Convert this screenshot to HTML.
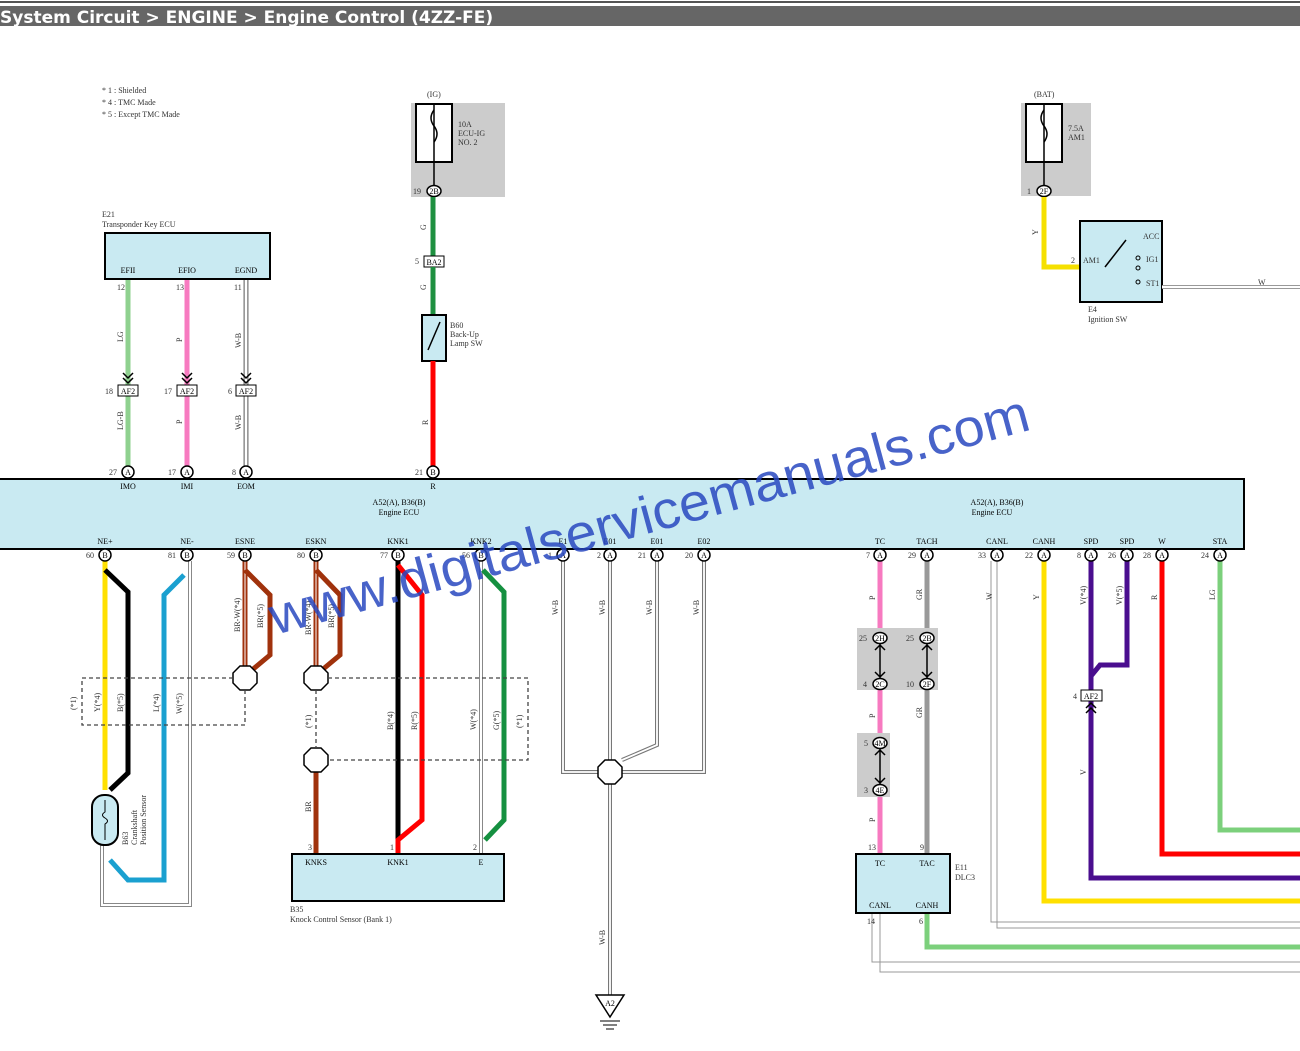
<!DOCTYPE html>
<html><head><meta charset="utf-8"><style>
html,body{margin:0;padding:0;background:#fff;width:1300px;height:1051px;overflow:hidden}
svg{display:block}
.t{font-family:"Liberation Serif",serif;font-size:8px;fill:#333}
.p{font-family:"Liberation Serif",serif;font-size:8px;fill:#000;text-anchor:middle}
</style></head><body>
<svg width="1300" height="1051" viewBox="0 0 1300 1051" xmlns="http://www.w3.org/2000/svg">
<line x1="0" y1="2" x2="1300" y2="2" stroke="#555" stroke-width="2"/>
<rect x="0" y="6" width="1300" height="20" fill="#666"/>
<text x="0" y="23" font-family="DejaVu Sans,sans-serif" font-weight="bold" font-size="17" fill="#fff">System Circuit &gt; ENGINE &gt; Engine Control (4ZZ-FE)</text>

<text class="t" x="102" y="93">* 1 : Shielded</text>
<text class="t" x="102" y="105">* 4 : TMC Made</text>
<text class="t" x="102" y="117">* 5 : Except TMC Made</text>

<!-- IG fuse -->
<text class="t" x="427" y="97">(IG)</text>
<rect x="411" y="103" width="94" height="94" fill="#ccc"/>
<rect x="416" y="104" width="36" height="58" fill="#fff" stroke="#000" stroke-width="2"/>
<path d="M434 110 q-6 8 0 16 q6 8 0 16" fill="none" stroke="#000" stroke-width="1.5"/>
<line x1="434" y1="104" x2="434" y2="185" stroke="#000" stroke-width="1.5"/>
<text class="t" x="458" y="127">10A</text><text class="t" x="458" y="136">ECU-IG</text><text class="t" x="458" y="145">NO. 2</text>
<ellipse cx="434" cy="191" rx="7" ry="5.5" fill="#fff" stroke="#000" stroke-width="1.5"/><text class="p" x="434" y="194">2B</text><text class="t" x="413" y="194">19</text>
<line x1="433" y1="197" x2="433" y2="256" stroke="#1e9040" stroke-width="5"/>
<rect x="424" y="256" width="20" height="11" fill="#fff" stroke="#000"/><text class="p" x="434" y="265">BA2</text><text class="t" x="415" y="264">5</text>
<line x1="433" y1="267" x2="433" y2="315" stroke="#1e9040" stroke-width="5"/>
<text class="t" x="426" y="230" transform="rotate(-90 426 230)">G</text>
<text class="t" x="426" y="290" transform="rotate(-90 426 290)">G</text>
<rect x="422" y="315" width="24" height="46" fill="#c9eaf2" stroke="#000" stroke-width="2"/>
<line x1="428" y1="350" x2="440" y2="322" stroke="#000" stroke-width="1.5"/>
<text class="t" x="450" y="328">B60</text><text class="t" x="450" y="337">Back-Up</text><text class="t" x="450" y="346">Lamp SW</text>
<line x1="433" y1="361" x2="433" y2="466" stroke="#f00" stroke-width="5"/>
<text class="t" x="428" y="425" transform="rotate(-90 428 425)">R</text>

<!-- BAT -->
<text class="t" x="1034" y="97">(BAT)</text>
<rect x="1021" y="103" width="70" height="93" fill="#ccc"/>
<rect x="1026" y="104" width="36" height="58" fill="#fff" stroke="#000" stroke-width="2"/>
<path d="M1044 110 q-6 8 0 16 q6 8 0 16" fill="none" stroke="#000" stroke-width="1.5"/>
<line x1="1044" y1="104" x2="1044" y2="185" stroke="#000" stroke-width="1.5"/>
<text class="t" x="1068" y="131">7.5A</text><text class="t" x="1068" y="140">AM1</text>
<ellipse cx="1044" cy="191" rx="7" ry="5.5" fill="#fff" stroke="#000" stroke-width="1.5"/><text class="p" x="1044" y="194">2F</text><text class="t" x="1027" y="194">1</text>
<path d="M1044 197 V267 H1080" fill="none" stroke="#f5e000" stroke-width="5"/>
<text class="t" x="1038" y="235" transform="rotate(-90 1038 235)">Y</text><text class="t" x="1071" y="263">2</text>
<rect x="1080" y="221" width="82" height="81" fill="#c9eaf2" stroke="#000" stroke-width="2"/>
<text class="t" x="1083" y="263">AM1</text><text class="t" x="1143" y="239">ACC</text><text class="t" x="1146" y="262">IG1</text><text class="t" x="1146" y="286">ST1</text>
<line x1="1105" y1="267" x2="1126" y2="240" stroke="#000" stroke-width="1.5"/>
<circle cx="1138" cy="258" r="2" fill="none" stroke="#000"/><circle cx="1138" cy="268" r="2" fill="none" stroke="#000"/><circle cx="1138" cy="282" r="2" fill="none" stroke="#000"/>
<path d="M1162 287 H1300" stroke="#999" stroke-width="4"/><path d="M1162 287 H1300" stroke="#fff" stroke-width="2"/>
<text class="t" x="1258" y="285">W</text>
<text class="t" x="1088" y="312">E4</text><text class="t" x="1088" y="322">Ignition SW</text>

<!-- Transponder ECU -->
<text class="t" x="102" y="217">E21</text><text class="t" x="102" y="227">Transponder Key ECU</text>
<rect x="105" y="233" width="165" height="46" fill="#c9eaf2" stroke="#000" stroke-width="2"/>
<text class="p" x="128" y="273">EFII</text><text class="p" x="187" y="273">EFIO</text><text class="p" x="246" y="273">EGND</text>
<line x1="128" y1="280" x2="128" y2="466" stroke="#8fd18f" stroke-width="5"/>
<line x1="187" y1="280" x2="187" y2="466" stroke="#f77ac0" stroke-width="5"/>
<line x1="246" y1="280" x2="246" y2="466" stroke="#777" stroke-width="5"/><line x1="246" y1="280" x2="246" y2="466" stroke="#fff" stroke-width="2.5"/>
<g fill="#fff" stroke="#000"><rect x="118" y="385" width="20" height="11"/><rect x="177" y="385" width="20" height="11"/><rect x="236" y="385" width="20" height="11"/></g>
<text class="p" x="128" y="394">AF2</text><text class="p" x="187" y="394">AF2</text><text class="p" x="246" y="394">AF2</text>
<g fill="none" stroke="#000" stroke-width="1.5"><path d="M123 373l5 5 5-5M123 378l5 5 5-5M182 373l5 5 5-5M182 378l5 5 5-5M241 373l5 5 5-5M241 378l5 5 5-5"/></g>
<text class="t" x="105" y="394">18</text><text class="t" x="164" y="394">17</text><text class="t" x="228" y="394">6</text>
<text class="t" x="117" y="290">12</text><text class="t" x="176" y="290">13</text><text class="t" x="234" y="290">11</text>
<text class="t" x="123" y="342" transform="rotate(-90 123 342)">LG</text><text class="t" x="182" y="342" transform="rotate(-90 182 342)">P</text><text class="t" x="241" y="348" transform="rotate(-90 241 348)">W-B</text>
<text class="t" x="123" y="430" transform="rotate(-90 123 430)">LG-B</text><text class="t" x="182" y="424" transform="rotate(-90 182 424)">P</text><text class="t" x="241" y="430" transform="rotate(-90 241 430)">W-B</text>

<!-- Main ECU -->
<rect x="-2" y="479" width="1246" height="70" fill="#c9eaf2" stroke="#000" stroke-width="2"/>
<text class="p" x="399" y="505">A52(A), B36(B)</text><text class="p" x="399" y="515">Engine ECU</text>
<text class="p" x="997" y="505">A52(A), B36(B)</text><text class="p" x="992" y="515">Engine ECU</text>
<g class="p"><text x="128" y="489">IMO</text><text x="187" y="489">IMI</text><text x="246" y="489">EOM</text><text x="433" y="489">R</text></g>
<g fill="#fff" stroke="#000" stroke-width="1.5"><circle cx="128" cy="472" r="6"/><circle cx="187" cy="472" r="6"/><circle cx="246" cy="472" r="6"/><circle cx="433" cy="472" r="6"/></g>
<g class="p"><text x="128" y="475">A</text><text x="187" y="475">A</text><text x="246" y="475">A</text><text x="433" y="475">B</text></g>
<g class="t"><text x="109" y="475">27</text><text x="168" y="475">17</text><text x="232" y="475">8</text><text x="415" y="475">21</text></g>

<!-- bottom pin labels -->
<g class="p">
<text x="105" y="544">NE+</text><text x="187" y="544">NE-</text><text x="245" y="544">ESNE</text><text x="316" y="544">ESKN</text><text x="398" y="544">KNK1</text><text x="481" y="544">KNK2</text>
<text x="563" y="544">E1</text><text x="610" y="544">E01</text><text x="657" y="544">E01</text><text x="704" y="544">E02</text>
<text x="880" y="544">TC</text><text x="927" y="544">TACH</text><text x="997" y="544">CANL</text><text x="1044" y="544">CANH</text><text x="1091" y="544">SPD</text><text x="1127" y="544">SPD</text><text x="1162" y="544">W</text><text x="1220" y="544">STA</text>
</g>

<!-- wires bottom -->
<g fill="none" stroke-linejoin="miter">
<path d="M105 561V790" stroke="#ffe000" stroke-width="5"/>
<path d="M105 570L128 592V773L110 790" stroke="#000" stroke-width="5"/>
<path d="M102 845V905H190V561" stroke="#888" stroke-width="4"/><path d="M102 845V905H190V561" stroke="#fff" stroke-width="2"/>
<path d="M184 575L164 595V880H128L110 860" stroke="#1aa0d0" stroke-width="5"/>
<path d="M245 561V666" stroke="#a0320c" stroke-width="5"/><path d="M245 561V666" stroke="#fff" stroke-width="1"/>
<path d="M245 570L270 595V655L252 670" stroke="#a0320c" stroke-width="5"/>
<path d="M316 561V666" stroke="#a0320c" stroke-width="5"/><path d="M316 561V666" stroke="#fff" stroke-width="1"/>
<path d="M316 570L340 595V655L322 670" stroke="#a0320c" stroke-width="5"/>
<path d="M316 772V853" stroke="#a0320c" stroke-width="5"/>
<path d="M398 561V845" stroke="#000" stroke-width="5"/>
<path d="M398 565L422 595V820L398 840V853" stroke="#f00" stroke-width="5"/>
<path d="M481 561V853" stroke="#888" stroke-width="4"/><path d="M481 561V853" stroke="#fff" stroke-width="2"/>
<path d="M483 570L504 592V820L485 840" stroke="#159040" stroke-width="5"/>
<path d="M563 561V772H598M610 561V760M657 561V745L622 760M704 561V772H622M610 784V995" stroke="#777" stroke-width="4"/>
<path d="M563 561V772H598M610 561V760M657 561V745L622 760M704 561V772H622M610 784V995" stroke="#fff" stroke-width="1.8"/>
<path d="M880 561V853" stroke="#f77ac0" stroke-width="5"/>
<path d="M927 561V853" stroke="#999" stroke-width="5"/>
<path d="M927 913V947H1300" stroke="#7cd07c" stroke-width="5"/>
<path d="M880 913V972H1300M872 913V962H1300" stroke="#999" stroke-width="1"/>
<path d="M997 561V928H1300M991 561V922H1300" stroke="#999" stroke-width="1"/>
<path d="M1044 561V901H1300" stroke="#ffe000" stroke-width="5"/>
<path d="M1091 561V878H1300" stroke="#4a0e8f" stroke-width="5"/>
<path d="M1127 561V665H1100L1091 676" stroke="#4a0e8f" stroke-width="5"/>
<path d="M1162 561V854H1300" stroke="#f00" stroke-width="5"/>
<path d="M1220 561V830H1300" stroke="#7cd07c" stroke-width="5"/>
</g>

<rect x="857" y="628" width="81" height="62" fill="#ccc"/>
<rect x="857" y="733" width="33" height="64" fill="#ccc"/>
<g stroke="#000" stroke-width="1.5" fill="none"><path d="M880 644V678M927 644V678M880 749V784M875 650l5-5 5 5M875 672l5 5 5-5M922 650l5-5 5 5M922 672l5 5 5-5M875 755l5-5 5 5M875 778l5 5 5-5"/></g>
<g fill="#fff" stroke="#000" stroke-width="1.5">
<ellipse cx="880" cy="638" rx="7" ry="5.5"/><ellipse cx="927" cy="638" rx="7" ry="5.5"/><ellipse cx="880" cy="684" rx="7" ry="5.5"/><ellipse cx="927" cy="684" rx="7" ry="5.5"/><ellipse cx="880" cy="743" rx="7" ry="5.5"/><ellipse cx="880" cy="790" rx="7" ry="5.5"/>
</g>
<g class="p"><text x="880" y="641">2H</text><text x="927" y="641">2B</text><text x="880" y="687">2C</text><text x="927" y="687">2F</text><text x="880" y="746">4M</text><text x="880" y="793">4E</text></g>
<g class="t"><text x="859" y="641">25</text><text x="906" y="641">25</text><text x="863" y="687">4</text><text x="906" y="687">10</text><text x="864" y="746">5</text><text x="864" y="793">3</text><text x="868" y="850">13</text><text x="920" y="850">9</text></g>
<rect x="1081" y="690" width="21" height="11" fill="#fff" stroke="#000"/><text class="p" x="1091" y="699">AF2</text><text class="t" x="1073" y="699">4</text>
<path d="M1086 708l5-5 5 5M1086 713l5-5 5 5" fill="none" stroke="#000" stroke-width="1.5"/>

<rect x="856" y="854" width="94" height="59" fill="#c9eaf2" stroke="#000" stroke-width="2"/>
<g class="p"><text x="880" y="866">TC</text><text x="927" y="866">TAC</text><text x="880" y="908">CANL</text><text x="927" y="908">CANH</text></g>
<text class="t" x="955" y="870">E11</text><text class="t" x="955" y="880">DLC3</text>
<text class="t" x="867" y="924">14</text><text class="t" x="919" y="924">6</text>

<g fill="#fff" stroke="#000" stroke-width="1.5">
<polygon points="240,666 250,666 257,673 257,683 250,690 240,690 233,683 233,673"/>
<polygon points="311,666 321,666 328,673 328,683 321,690 311,690 304,683 304,673"/>
<polygon points="311,748 321,748 328,755 328,765 321,772 311,772 304,765 304,755"/>
<polygon points="605,760 615,760 622,767 622,777 615,784 605,784 598,777 598,767"/>
</g>
<g fill="none" stroke="#444" stroke-dasharray="4,3" stroke-width="1.3">
<path d="M233 678H82V725H245V690"/>
<path d="M328 678H528V760H328M316 690V748"/>
</g>

<rect x="92" y="795" width="26" height="50" rx="12" fill="#c9eaf2" stroke="#000" stroke-width="2"/>
<path d="M105 800V812q-5 3 0 6q5 3 0 6v16" fill="none" stroke="#000"/>
<text class="t" x="128" y="845" transform="rotate(-90 128 845)">B63</text>
<text class="t" x="137" y="845" transform="rotate(-90 137 845)">Crankshaft</text>
<text class="t" x="146" y="845" transform="rotate(-90 146 845)">Position Sensor</text>

<rect x="292" y="854" width="212" height="47" fill="#c9eaf2" stroke="#000" stroke-width="2"/>
<g class="p"><text x="316" y="865">KNKS</text><text x="398" y="865">KNK1</text><text x="481" y="865">E</text></g>
<text class="t" x="290" y="912">B35</text><text class="t" x="290" y="922">Knock Control Sensor (Bank 1)</text>
<g class="t"><text x="308" y="850">3</text><text x="390" y="850">1</text><text x="473" y="850">2</text></g>

<polygon points="596,995 624,995 610,1017" fill="#fff" stroke="#000" stroke-width="1.5"/><text class="p" x="610" y="1006" font-size="7">A2</text>
<path d="M600 1021H620M603 1025H617M606 1029H614" stroke="#000"/>
<text class="t" x="605" y="945" transform="rotate(-90 605 945)">W-B</text>

<g fill="#fff" stroke="#000" stroke-width="1.5">
<circle cx="105" cy="555" r="6"/><circle cx="187" cy="555" r="6"/><circle cx="245" cy="555" r="6"/><circle cx="316" cy="555" r="6"/><circle cx="398" cy="555" r="6"/><circle cx="481" cy="555" r="6"/>
<circle cx="563" cy="555" r="6"/><circle cx="610" cy="555" r="6"/><circle cx="657" cy="555" r="6"/><circle cx="704" cy="555" r="6"/>
<circle cx="880" cy="555" r="6"/><circle cx="927" cy="555" r="6"/><circle cx="997" cy="555" r="6"/><circle cx="1044" cy="555" r="6"/><circle cx="1091" cy="555" r="6"/><circle cx="1127" cy="555" r="6"/><circle cx="1162" cy="555" r="6"/><circle cx="1220" cy="555" r="6"/>
</g>
<g class="p">
<text x="105" y="558">B</text><text x="187" y="558">B</text><text x="245" y="558">B</text><text x="316" y="558">B</text><text x="398" y="558">B</text><text x="481" y="558">B</text>
<text x="563" y="558">A</text><text x="610" y="558">A</text><text x="657" y="558">A</text><text x="704" y="558">A</text>
<text x="880" y="558">A</text><text x="927" y="558">A</text><text x="997" y="558">A</text><text x="1044" y="558">A</text><text x="1091" y="558">A</text><text x="1127" y="558">A</text><text x="1162" y="558">A</text><text x="1220" y="558">A</text>
</g>
<g class="t">
<text x="86" y="558">60</text><text x="168" y="558">81</text><text x="227" y="558">59</text><text x="297" y="558">80</text><text x="380" y="558">77</text><text x="462" y="558">56</text>
<text x="548" y="558">1</text><text x="597" y="558">2</text><text x="638" y="558">21</text><text x="685" y="558">20</text>
<text x="866" y="558">7</text><text x="908" y="558">29</text><text x="978" y="558">33</text><text x="1025" y="558">22</text><text x="1077" y="558">8</text><text x="1108" y="558">26</text><text x="1143" y="558">28</text><text x="1201" y="558">24</text>
</g>
<g class="t">
<text x="558" y="615" transform="rotate(-90 558 615)">W-B</text><text x="605" y="615" transform="rotate(-90 605 615)">W-B</text><text x="652" y="615" transform="rotate(-90 652 615)">W-B</text><text x="699" y="615" transform="rotate(-90 699 615)">W-B</text>
<text x="875" y="600" transform="rotate(-90 875 600)">P</text><text x="922" y="600" transform="rotate(-90 922 600)">GR</text><text x="875" y="718" transform="rotate(-90 875 718)">P</text><text x="922" y="718" transform="rotate(-90 922 718)">GR</text><text x="875" y="822" transform="rotate(-90 875 822)">P</text>
<text x="992" y="600" transform="rotate(-90 992 600)">W</text><text x="1039" y="600" transform="rotate(-90 1039 600)">Y</text><text x="1086" y="605" transform="rotate(-90 1086 605)">V(*4)</text><text x="1122" y="605" transform="rotate(-90 1122 605)">V(*5)</text><text x="1157" y="600" transform="rotate(-90 1157 600)">R</text><text x="1215" y="600" transform="rotate(-90 1215 600)">LG</text><text x="1086" y="775" transform="rotate(-90 1086 775)">V</text>
<text x="240" y="632" transform="rotate(-90 240 632)">BR-W(*4)</text><text x="263" y="628" transform="rotate(-90 263 628)">BR(*5)</text>
<text x="311" y="635" transform="rotate(-90 311 635)">BR-W(*4)</text><text x="334" y="628" transform="rotate(-90 334 628)">BR(*5)</text>
<text x="76" y="710" transform="rotate(-90 76 710)">(*1)</text><text x="100" y="712" transform="rotate(-90 100 712)">Y(*4)</text><text x="123" y="712" transform="rotate(-90 123 712)">B(*5)</text><text x="159" y="712" transform="rotate(-90 159 712)">L(*4)</text><text x="182" y="714" transform="rotate(-90 182 714)">W(*5)</text>
<text x="311" y="728" transform="rotate(-90 311 728)">(*1)</text><text x="393" y="730" transform="rotate(-90 393 730)">B(*4)</text><text x="417" y="730" transform="rotate(-90 417 730)">R(*5)</text><text x="476" y="730" transform="rotate(-90 476 730)">W(*4)</text><text x="499" y="730" transform="rotate(-90 499 730)">G(*5)</text><text x="522" y="728" transform="rotate(-90 522 728)">(*1)</text>
<text x="311" y="812" transform="rotate(-90 311 812)">BR</text>
</g>

<text x="275" y="635" font-family="Liberation Sans,sans-serif" font-size="53" fill="#2848c0" fill-opacity="0.85" transform="rotate(-15.2 275 635)" textLength="785" lengthAdjust="spacingAndGlyphs">www.digitalservicemanuals.com</text>
</svg>
</body></html>
